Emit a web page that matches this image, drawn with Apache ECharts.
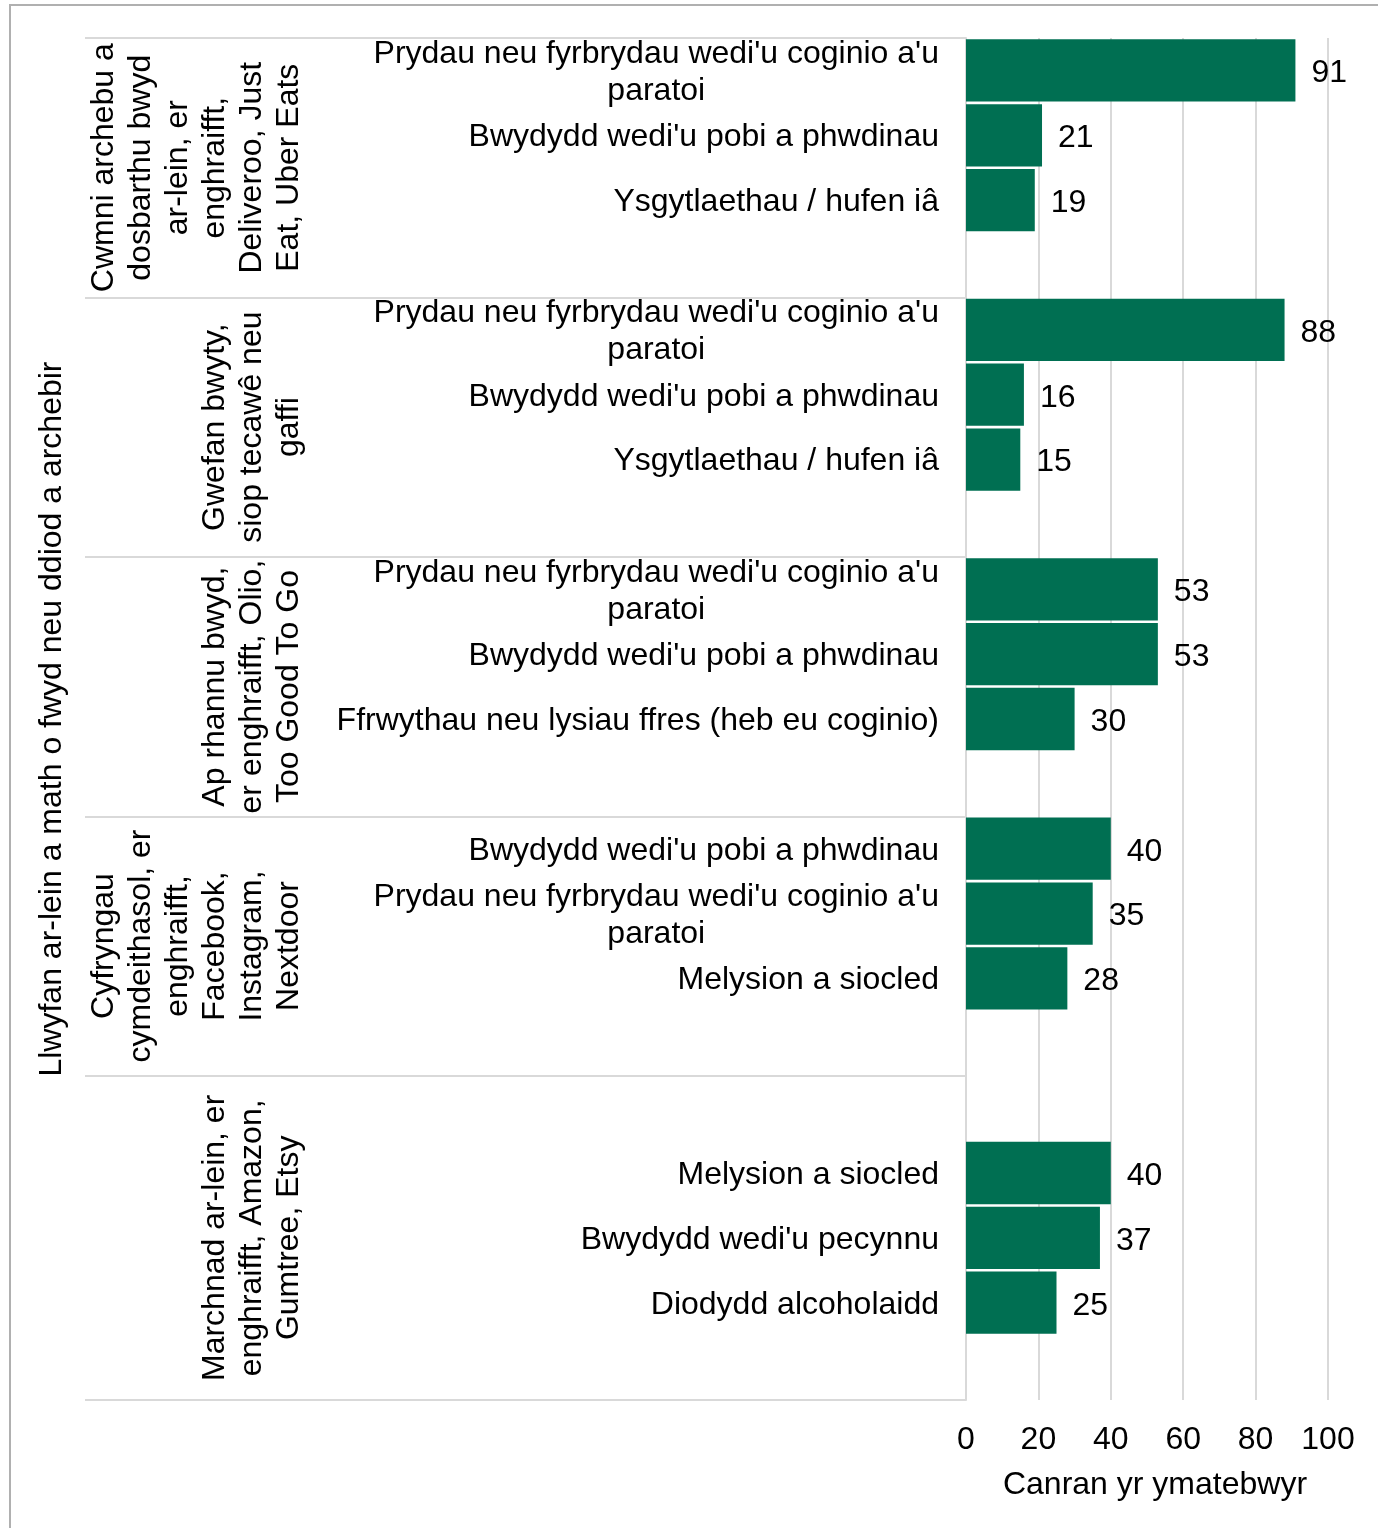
<!DOCTYPE html>
<html>
<head>
<meta charset="utf-8">
<script src="https://cdn.jsdelivr.net/npm/echarts@6/dist/echarts.min.js"></script>
<style>
html,body{margin:0;padding:0;background:#fff;}
#chart{width:1378px;height:1528px;}
</style>
</head>
<body>
<div id="chart"></div>
<script>
// ---- Data ----
const groupNames = [
  "Cwmni archebu a\ndosbarthu bwyd\nar-lein, er\nenghraifft,\nDeliveroo, Just\nEat, Uber Eats",
  "Gwefan bwyty,\nsiop tecawê neu\ngaffi",
  "Ap rhannu bwyd,\ner enghraifft, Olio,\nToo Good To Go",
  "Cyfryngau\ncymdeithasol, er\nenghraifft,\nFacebook,\nInstagram,\nNextdoor",
  "Marchnad ar-lein, er\nenghraifft, Amazon,\nGumtree, Etsy"
];
const groupItems = [
  ["Prydau neu fyrbrydau wedi'u coginio a'u\nparatoi", "Bwydydd wedi'u pobi a phwdinau", "Ysgytlaethau / hufen iâ"],
  ["Prydau neu fyrbrydau wedi'u coginio a'u\nparatoi", "Bwydydd wedi'u pobi a phwdinau", "Ysgytlaethau / hufen iâ"],
  ["Prydau neu fyrbrydau wedi'u coginio a'u\nparatoi", "Bwydydd wedi'u pobi a phwdinau", "Ffrwythau neu lysiau ffres (heb eu coginio)"],
  ["Bwydydd wedi'u pobi a phwdinau", "Prydau neu fyrbrydau wedi'u coginio a'u\nparatoi", "Melysion a siocled"],
  ["Melysion a siocled", "Bwydydd wedi'u pecynnu", "Diodydd alcoholaidd"]
];
const groupValues = [
  [91, 21, 19],
  [88, 16, 15],
  [53, 53, 30],
  [40, 35, 28],
  [40, 37, 25]
];
// empty category slots before / after each group's bars
const blankBefore = [0, 0, 0, 0, 1];
const blankAfter = [1, 1, 1, 1, 1];
const yTitle = "Llwyfan ar-lein a math o fwyd neu ddiod a archebir";
const xTitle = "Canran yr ymatebwyr";
const xMin = 0, xMax = 100, xStep = 20;

// ---- Build category slots ----
const categories = [];
const values = [];
const boundaries = [0];
const centers = [];
groupNames.forEach((g, gi) => {
  const start = categories.length;
  for (let k = 0; k < blankBefore[gi]; k++) { categories.push(''); values.push(null); }
  groupItems[gi].forEach((it, ii) => { categories.push(it); values.push(groupValues[gi][ii]); });
  for (let k = 0; k < blankAfter[gi]; k++) { categories.push(''); values.push(null); }
  boundaries.push(categories.length);
  centers.push((start + categories.length) / 2);
});
const nSlots = categories.length;

const FONT = "'Liberation Sans', Arial, sans-serif";
const GREEN = '#006f52';
const GRID = '#d9d9d9';

const chart = echarts.init(document.getElementById('chart'), null, {renderer: 'canvas'});
chart.setOption({
  animation: false,
  textStyle: {fontFamily: FONT, color: '#000'},
  graphic: [{
    type: 'rect', silent: true, z: -10,
    shape: {x: 10, y: 5, width: 1400, height: 1560},
    style: {fill: 'none', stroke: '#b0b0b0', lineWidth: 2}
  }],
  grid: [
    {left: 966, right: 50, top: 38, bottom: 128, outerBoundsMode: 'none', containLabel: false},
    {left: 85, right: 412, top: 38, bottom: 128, outerBoundsMode: 'none', containLabel: false}
  ],
  xAxis: [
    {
      type: 'value', gridIndex: 0, min: xMin, max: xMax, interval: xStep,
      axisLine: {show: false}, axisTick: {show: false},
      splitLine: {show: true, lineStyle: {color: GRID, width: 2}},
      axisLabel: {fontSize: 32, color: '#000', margin: 24, fontFamily: FONT},
      name: xTitle, nameLocation: 'middle', nameGap: 69,
      nameTextStyle: {fontSize: 32, color: '#000', fontFamily: FONT, padding: [0, 0, 0, 16]}
    },
    {type: 'value', gridIndex: 1, min: 0, max: 1, show: false}
  ],
  yAxis: [
    {
      type: 'category', gridIndex: 0, data: categories, inverse: true,
      axisLine: {show: true, lineStyle: {color: GRID, width: 2}},
      axisTick: {show: false}, splitLine: {show: false},
      axisLabel: {
        interval: 0, margin: 27, align: 'right', verticalAlign: 'middle',
        padding: [4, 0, 0, 0],
        fontSize: 32, lineHeight: 37, color: '#000', fontFamily: FONT,
        formatter: v => v ? v.split('\n').map(l => '{c|' + l + '}').join('\n') : '',
        rich: {c: {align: 'center', fontSize: 32, lineHeight: 37, color: '#000', fontFamily: FONT}}
      }
    },
    {
      type: 'value', gridIndex: 1, min: 0, max: nSlots, inverse: true,
      axisLine: {show: false}, axisTick: {show: false}, splitLine: {show: false},
      axisLabel: {
        customValues: centers, inside: true, margin: 223, rotate: 90,
        align: 'center', verticalAlign: 'bottom', hideOverlap: false,
        fontSize: 32, lineHeight: 37, color: '#000', fontFamily: FONT,
        formatter: v => { const i = centers.indexOf(v); return i >= 0 ? groupNames[i] : ''; }
      },
      name: yTitle, nameLocation: 'middle', nameRotate: 90, nameGap: 33,
      nameMoveOverlap: false,
      nameTextStyle: {fontSize: 32, color: '#000', fontFamily: FONT, align: 'center', verticalAlign: 'middle'}
    }
  ],
  series: [
    {
      type: 'bar', xAxisIndex: 0, yAxisIndex: 0, data: values,
      barCategoryGap: '4%',
      itemStyle: {color: GREEN},
      label: {show: true, position: 'right', distance: 16, offset: [0, 3], fontSize: 32, color: '#000', fontFamily: FONT},
      silent: true
    },
    {
      type: 'scatter', xAxisIndex: 1, yAxisIndex: 1, data: [], silent: true,
      markLine: {
        silent: true, symbol: 'none', label: {show: false},
        lineStyle: {color: GRID, width: 2, type: 'solid'},
        data: boundaries.map(b => ({yAxis: b}))
      }
    }
  ]
});
</script>
</body>
</html>
